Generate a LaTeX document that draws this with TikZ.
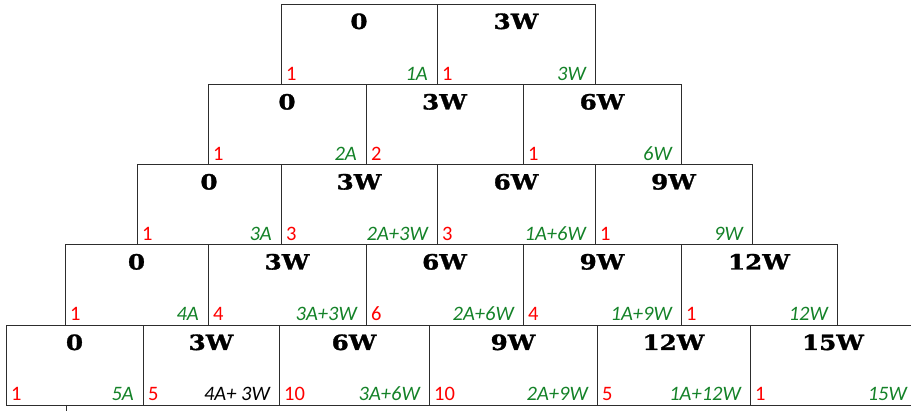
\documentclass[tikz,border=0pt]{standalone}
\usepackage{fontspec}
\setmainfont{Carlito}
\newfontfamily\headfont[FakeStretch=1.17,FakeBold=1.4]{DejaVu Serif}
\definecolor{lblred}{RGB}{255,0,0}
\definecolor{lblgreen}{RGB}{20,130,40}
\definecolor{gridline}{RGB}{45,45,45}
\tikzset{
  cellbox/.style={draw=gridline, line width=0.9pt, inner sep=0pt, outer sep=0pt, rectangle},
  headtxt/.style={font=\headfont\bfseries\fontsize{21}{22}\selectfont, anchor=base, inner sep=0pt},
  redtxt/.style={text=lblred, font=\fontsize{20.5}{22}\selectfont, anchor=base west, inner sep=0pt},
  grntxt/.style={text=lblgreen, font=\itshape\fontsize{20.5}{22}\selectfont, anchor=base east, inner sep=0pt},
  stubline/.style={draw=gridline, line width=0.9pt},
}
% name, x1, x2, y1, y2, header, red label, green label
\newcommand\mkcell[8]{%
  \pgfmathsetmacro\mkW{#3-#2}%
  \pgfmathsetmacro\mkH{#5-#4}%
  \pgfmathsetmacro\mkX{(#2+#3)/2}%
  \pgfmathsetmacro\mkY{(#4+#5)/2}%
  \node[cellbox, minimum width=\mkW pt, minimum height=\mkH pt] (#1) at (\mkX,\mkY) {};
  \node[headtxt] (#1h) at ([yshift=-25pt]#1.north) {#6};
  \node[redtxt] (#1r) at ([xshift=5pt,yshift=4pt]#1.south west) {#7};
  \node[grntxt] (#1g) at ([xshift=-9pt,yshift=4pt]#1.south east) {#8};
}
\begin{document}
\begin{tikzpicture}[x=1pt,y=-1pt]
\useasboundingbox (0,0) rectangle (911,411);
% row 1
\mkcell{a1}{281}{437}{4}{84.5}{0}{1}{1A}
\mkcell{a2}{437}{595}{4}{84.5}{3W}{1}{3W}
% row 2
\mkcell{b1}{208}{366}{84.5}{164.5}{0}{1}{2A}
\mkcell{b2}{366}{523}{84.5}{164.5}{3W}{2}{}
\mkcell{b3}{523}{681}{84.5}{164.5}{6W}{1}{6W}
% row 3
\mkcell{c1}{137}{281}{164.5}{244.5}{0}{1}{3A}
\mkcell{c2}{281}{437}{164.5}{244.5}{3W}{3}{2A+3W}
\mkcell{c3}{437}{595}{164.5}{244.5}{6W}{3}{1A+6W}
\mkcell{c4}{595}{752}{164.5}{244.5}{9W}{1}{9W}
% row 4
\mkcell{d1}{65}{208}{244.5}{325}{0}{1}{4A}
\mkcell{d2}{208}{366}{244.5}{325}{3W}{4}{3A+3W}
\mkcell{d3}{366}{523}{244.5}{325}{6W}{6}{2A+6W}
\mkcell{d4}{523}{681}{244.5}{325}{9W}{4}{1A+9W}
\mkcell{d5}{681}{837}{244.5}{325}{12W}{1}{12W}
% row 5
\mkcell{e1}{6}{143}{325}{405}{0}{1}{5A}
\mkcell{e2}{143}{279}{325}{405}{3W}{5}{{\color{black}4A+ 3W}}
\mkcell{e3}{279}{429}{325}{405}{6W}{10}{3A+6W}
\mkcell{e4}{429}{597}{325}{405}{9W}{10}{2A+9W}
\mkcell{e5}{597}{750}{325}{405}{12W}{5}{1A+12W}
\mkcell{e6}{750}{916}{325}{405}{15W}{1}{15W}
% partial next row
\coordinate (stubend) at (66,416);
\draw[stubline] (e1.south -| stubend) -- (stubend);
\end{tikzpicture}
\end{document}
